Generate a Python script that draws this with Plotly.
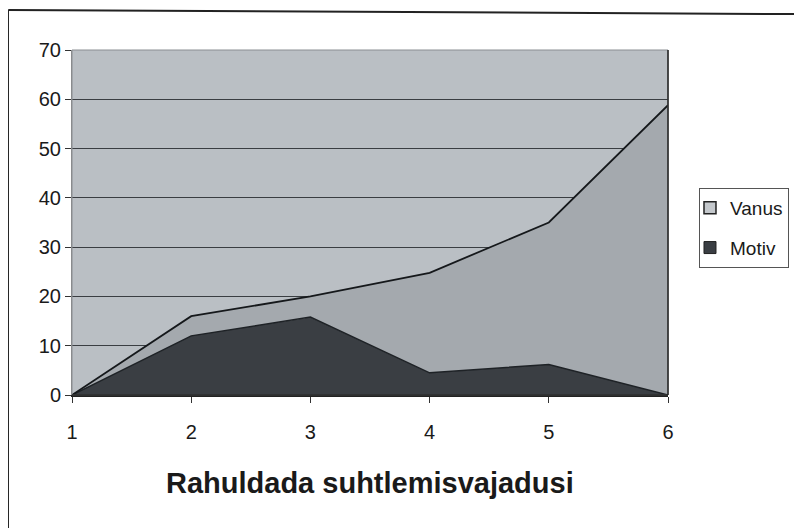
import plotly.graph_objects as go

categories = [1, 2, 3, 4, 5, 6]
motiv = [0, 12, 15.8, 4.5, 6.2, 0]
vanus_total = [0, 16, 20, 24.8, 35, 58.8]
vanus = [t - m for t, m in zip(vanus_total, motiv)]
y_ticks = [0, 10, 20, 30, 40, 50, 60, 70]

FAM = "Liberation Sans, Arial, sans-serif"
MOTIV_FILL = "#3a3e43"
VANUS_FILL = "#a4a9ae"

fig = go.Figure()
fig.add_trace(go.Scatter(
    x=categories, y=motiv, name="Motiv", stackgroup="one", mode="lines",
    line=dict(color="#1e2226", width=1.5), fillcolor=MOTIV_FILL, showlegend=False,
))
fig.add_trace(go.Scatter(
    x=categories, y=vanus, name="Vanus", stackgroup="one", mode="lines",
    line=dict(color="#15181b", width=1.8), fillcolor=VANUS_FILL, showlegend=False,
))
# legend entries (square swatches)
fig.add_trace(go.Scatter(
    x=[None], y=[None], name="Vanus", mode="markers", legendgroup="v",
    marker=dict(symbol="square", size=12, color="#c4c8cc", line=dict(color="#222", width=1.5)),
))
fig.add_trace(go.Scatter(
    x=[None], y=[None], name="Motiv", mode="markers", legendgroup="m",
    marker=dict(symbol="square", size=12, color=MOTIV_FILL, line=dict(color="#222", width=1)),
))

font = dict(family=FAM, size=20, color="#1a1a1a")

fig.update_layout(
    width=802, height=528,
    margin=dict(l=64, r=142, t=42, b=141),
    paper_bgcolor="white",
    plot_bgcolor="#babfc4",
    font=font,
    showlegend=True,
    legend=dict(
        x=1.052, y=0.6, xanchor="left", yanchor="top",
        traceorder="grouped", bgcolor="white",
        bordercolor="#555555", borderwidth=1,
        font=dict(family=FAM, size=19, color="#1a1a1a"),
        itemwidth=30, tracegroupgap=12, indentation=-10,
    ),
    xaxis=dict(
        range=[1, 6], tickvals=categories, ticktext=[str(c) for c in categories],
        showgrid=False, zeroline=False, showline=True, linecolor="#222222", linewidth=1.5,
        ticks="outside", ticklen=6, tickcolor="#333333", tickfont=font,
        ticklabelstandoff=12,
    ),
    yaxis=dict(
        range=[0, 70], tickvals=y_ticks,
        showgrid=True, gridcolor="#3a3e42", gridwidth=1.2,
        zeroline=False, showline=True, linecolor="#888888", linewidth=1,
        ticks="outside", ticklen=6, tickcolor="#333333", tickfont=font,
    ),
    annotations=[dict(
        text="<b>Rahuldada suhtlemisvajadusi</b>", xref="paper", yref="paper",
        x=0.5, y=-0.255, xanchor="center", yanchor="middle", showarrow=False,
        font=dict(family=FAM, size=29, color="#1a1a1a"),
    )],
    shapes=[
        dict(type="rect", xref="paper", yref="paper", x0=0, x1=1, y0=0, y1=1,
             line=dict(color="#8a8e92", width=1), layer="above"),
        dict(type="line", xref="paper", yref="paper", x0=1, x1=1, y0=0, y1=1,
             line=dict(color="#222222", width=1.5), layer="above"),
        dict(type="line", xref="paper", yref="paper", x0=0, x1=1, y0=0, y1=0,
             line=dict(color="#222222", width=1.5), layer="above"),
        # outer chart frame
        dict(type="line", xref="paper", yref="paper", x0=-0.107, x1=1.23, y0=1.116, y1=1.104,
             line=dict(color="#222222", width=2)),
        dict(type="line", xref="paper", yref="paper", x0=-0.107, x1=-0.107, y0=1.116, y1=-0.4,
             line=dict(color="#222222", width=1.5)),
    ],
)

fig.write_html("out.html")
